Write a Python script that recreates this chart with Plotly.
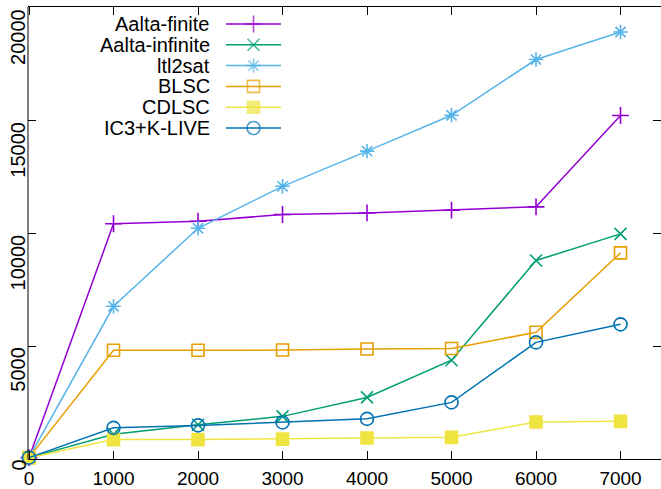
import plotly.graph_objects as go

# ---- data ----
x_vals = [0, 1000, 2000, 3000, 4000, 5000, 6000, 7000]
names = ["Aalta-finite", "Aalta-infinite", "ltl2sat", "BLSC", "CDLSC", "IC3+K-LIVE"]
aalta_finite = [60, 10430, 10540, 10840, 10910, 11030, 11180, 15230]
aalta_infinite = [60, 1100, 1520, 1890, 2730, 4380, 8800, 9980]
ltl2sat = [60, 6770, 10230, 12090, 13650, 15240, 17710, 18930]
blsc = [60, 4820, 4820, 4830, 4880, 4900, 5620, 9140]
cdlsc = [60, 860, 860, 880, 930, 960, 1640, 1670]
ic3klive = [60, 1380, 1490, 1620, 1780, 2510, 5170, 5970]
series = [aalta_finite, aalta_infinite, ltl2sat, blsc, cdlsc, ic3klive]
y_ticks = [0, 5000, 10000, 15000, 20000]
y_tick_labels = ["0", "5000", "10000", "15000", "20000"]
x_ticks = [0, 1000, 2000, 3000, 4000, 5000, 6000, 7000]
x_tick_labels = ["0", "1000", "2000", "3000", "4000", "5000", "6000", "7000"]

colors = ["#9400d3", "#009e73", "#56b4e9", "#e69f00", "#f0e442", "#0072b2"]
symbols = ["cross-thin", "x-thin", "asterisk", "square-open", "square", "circle-open"]
sizes = [12, 12, 12, 12, 12, 13]

W, H = 661, 489
ML, MR, MT, MB = 28, 0, 7, 30
PW, PH = W - ML - MR, H - MT - MB
FONT = "Liberation Sans, Arial, Helvetica, sans-serif"

fig = go.Figure()
for name, ys, c, s, sz in zip(names, series, colors, symbols, sizes):
    fig.add_trace(go.Scatter(
        x=x_vals, y=ys, name=name, mode="lines+markers",
        line=dict(color=c, width=1.5),
        marker=dict(symbol=s, size=sz, color=c, line=dict(color=c, width=1.6)),
        showlegend=False, cliponaxis=False,
    ))

# ---- custom gnuplot-style legend (text left, sample right) ----
def px2paper_x(px):
    return (px - ML) / PW

def px2paper_y(py):
    return (H - MB - py) / PH

row0, drow = 24, 20.8
text_right, l0, l1 = 212, 226, 281
for i, (name, c, s, sz) in enumerate(zip(names, colors, symbols, sizes)):
    py = row0 + i * drow
    fig.add_annotation(
        x=px2paper_x(text_right), y=px2paper_y(py), xref="paper", yref="paper",
        text=name, showarrow=False, xanchor="right", yanchor="middle",
        font=dict(family=FONT, size=20, color="black"),
    )
    fig.add_trace(go.Scatter(
        x=[px2paper_x(l0), px2paper_x((l0 + l1) / 2), px2paper_x(l1)],
        y=[px2paper_y(py)] * 3, xaxis="x2", yaxis="y2",
        mode="lines+markers", line=dict(color=c, width=1.5),
        marker=dict(symbol=s, size=[0, sz, 0], color=c, line=dict(color=c, width=1.6)),
        showlegend=False, cliponaxis=False, hoverinfo="skip",
    ))

# ---- rotated y tick labels, gnuplot style (text ends at the tick) ----
for v, lab in zip(y_ticks, y_tick_labels):
    fig.add_annotation(
        x=px2paper_x(18), xref="paper", y=v, yref="y",
        text=lab, showarrow=False, textangle=-90,
        xanchor="center", yanchor="top", borderpad=0,
        font=dict(family=FONT, size=20, color="black"),
    )

# left border
fig.add_shape(type="line", xref="paper", yref="paper", x0=0, x1=0, y0=0, y1=1,
              line=dict(color="black", width=1))

fig.update_layout(
    width=W, height=H,
    margin=dict(l=ML, r=MR, t=MT, b=MB, autoexpand=False),
    paper_bgcolor="white", plot_bgcolor="white",
    font=dict(family=FONT, size=20, color="black"),
    xaxis=dict(range=[-12, 7479], tickvals=x_ticks, ticktext=x_tick_labels,
               ticks="inside", ticklen=8, ticklabelstandoff=2, automargin=False,
               tickcolor="black", showline=True, linecolor="black", linewidth=1,
               mirror="ticks", showgrid=False, zeroline=False,
               tickfont=dict(family=FONT, size=19, color="black")),
    yaxis=dict(range=[0, 20040], tickvals=y_ticks, showticklabels=False,
               ticks="inside", ticklen=8, automargin=False,
               tickcolor="black", showline=False, mirror="ticks",
               showgrid=False, zeroline=False),
    xaxis2=dict(overlaying="x", range=[0, 1], visible=False),
    yaxis2=dict(overlaying="y", range=[0, 1], visible=False),
)

fig.write_html("out.html", config={"displayModeBar": False},
               post_script="document.body.style.margin='0px';")
